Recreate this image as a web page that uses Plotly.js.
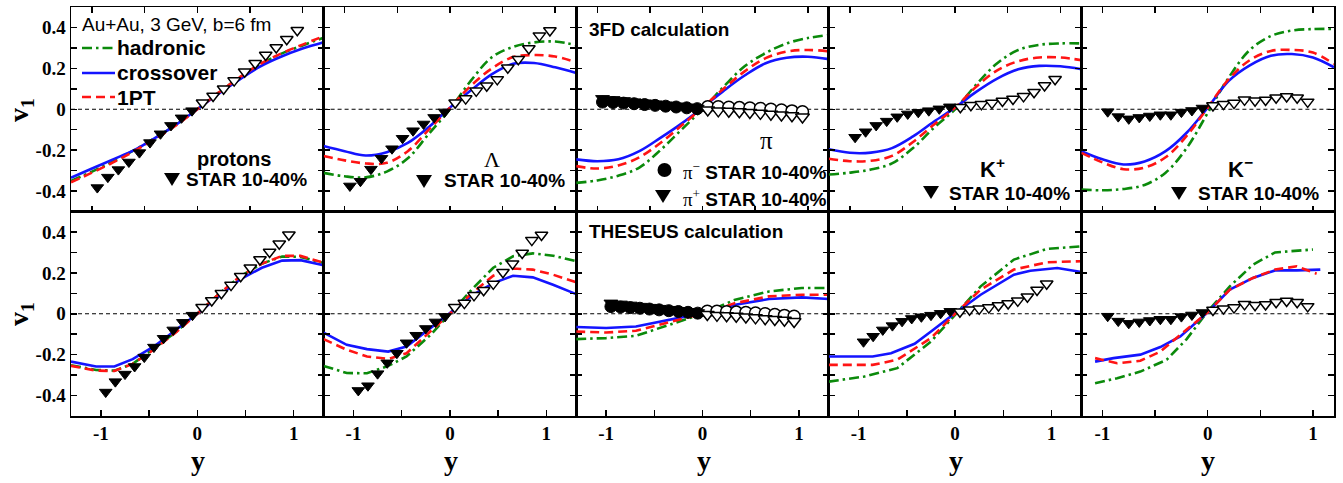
<!DOCTYPE html>
<html><head><meta charset="utf-8">
<script src="https://cdn.plot.ly/plotly-3.0.1.min.js"></script>
<style>html,body{margin:0;padding:0;background:#fff}</style>
</head><body><div id="chart" style="width:1343px;height:483px"></div>
<script>
// ---------------- DATA ----------------
// rapidity grid for 3FD curves (top row)
const rap3FD = [-1.2,-1.0,-0.8,-0.6,-0.4,-0.2,0,0.2,0.4,0.6,0.8,1.0,1.2];
// protons 3FD
const pHad3FD   = [-0.35,-0.305,-0.255,-0.2,-0.14,-0.075,0.0,0.08,0.155,0.22,0.272,0.312,0.35];
const pCross3FD = [-0.335,-0.29,-0.245,-0.2,-0.14,-0.075,0.0,0.075,0.145,0.21,0.258,0.297,0.328];
const p1PT3FD   = [-0.357,-0.31,-0.26,-0.205,-0.145,-0.078,0.0,0.08,0.155,0.222,0.273,0.316,0.357];
// Lambda 3FD
const lHad3FD   = [-0.311,-0.328,-0.333,-0.305,-0.24,-0.12,0.0,0.14,0.255,0.305,0.327,0.331,0.313];
const lCross3FD = [-0.18,-0.205,-0.226,-0.21,-0.165,-0.087,0.008,0.093,0.172,0.222,0.226,0.205,0.177];
const l1PT3FD   = [-0.229,-0.25,-0.265,-0.262,-0.205,-0.1,0.008,0.115,0.2,0.255,0.265,0.258,0.229];
// pions 3FD
const piHad3FD   = [-0.36,-0.348,-0.325,-0.285,-0.2,-0.1,0.0,0.11,0.21,0.275,0.322,0.348,0.363];
const piCross3FD = [-0.245,-0.254,-0.245,-0.205,-0.14,-0.07,0.008,0.09,0.165,0.225,0.252,0.257,0.245];
const pi1PT3FD   = [-0.278,-0.29,-0.275,-0.235,-0.165,-0.08,0.008,0.1,0.185,0.25,0.282,0.29,0.283];
// K+ 3FD
const kpHad3FD   = [-0.319,-0.31,-0.295,-0.265,-0.19,-0.09,0.0,0.12,0.225,0.29,0.315,0.322,0.322];
const kpCross3FD = [-0.196,-0.213,-0.212,-0.19,-0.133,-0.06,0.008,0.085,0.15,0.195,0.212,0.21,0.196];
const kp1PT3FD   = [-0.242,-0.254,-0.252,-0.228,-0.16,-0.075,0.008,0.11,0.19,0.235,0.253,0.253,0.24];
// K- 3FD
const kmHad3FD   = [-0.393,-0.396,-0.39,-0.37,-0.31,-0.19,-0.018,0.155,0.29,0.358,0.385,0.392,0.393];
const kmCross3FD = [-0.205,-0.245,-0.27,-0.255,-0.205,-0.115,0.008,0.139,0.215,0.262,0.27,0.253,0.205];
const km1PT3FD   = [-0.213,-0.26,-0.293,-0.285,-0.235,-0.13,0.008,0.147,0.24,0.285,0.29,0.277,0.221];

// THESEUS curves (bottom row)
const rapThP    = [-1.31,-1.05,-0.86,-0.67,-0.45,-0.22,0,0.22,0.45,0.67,0.88,1.07,1.31];
const pHadTh    = [-0.252,-0.275,-0.278,-0.245,-0.17,-0.088,0.0,0.095,0.185,0.245,0.28,0.278,0.248];
const pCrossTh  = [-0.234,-0.258,-0.258,-0.222,-0.16,-0.08,0.0,0.085,0.17,0.225,0.26,0.262,0.237];
const p1PTTh    = [-0.255,-0.278,-0.28,-0.245,-0.175,-0.09,0.0,0.095,0.185,0.245,0.283,0.283,0.25];

const rapThL    = [-1.31,-1.07,-0.86,-0.64,-0.45,-0.2,0,0.24,0.45,0.655,0.86,1.07,1.31];
const lHadTh    = [-0.255,-0.29,-0.291,-0.255,-0.209,-0.103,0,0.125,0.225,0.281,0.295,0.284,0.257];
const lCrossTh  = [-0.092,-0.152,-0.173,-0.185,-0.16,-0.07,0.003,0.093,0.15,0.186,0.178,0.142,0.096];
const l1PTTh    = [-0.124,-0.176,-0.209,-0.221,-0.193,-0.087,0,0.105,0.186,0.221,0.216,0.191,0.154];

const rapThPi   = [-1.31,-1.0,-0.69,-0.34,0,0.34,0.69,1.03,1.31];
const piHadTh   = [-0.124,-0.119,-0.108,-0.054,0,0.069,0.109,0.126,0.126];
const piCrossTh = [-0.065,-0.07,-0.062,-0.03,0.003,0.044,0.072,0.08,0.072];
const pi1PTTh   = [-0.087,-0.092,-0.083,-0.042,0,0.052,0.085,0.093,0.093];

const rapThKpHad   = [-1.31,-0.94,-0.6,-0.25,0,0.265,0.61,0.955,1.31];
const kpHadTh      = [-0.332,-0.307,-0.266,-0.136,-0.005,0.134,0.265,0.317,0.33];
const rapThKpCross = [-1.31,-0.855,-0.665,-0.42,-0.25,0,0.265,0.61,0.78,1.06,1.31];
const kpCrossTh    = [-0.209,-0.209,-0.193,-0.147,-0.087,0.003,0.093,0.191,0.21,0.224,0.204];
const rapThKp1PT   = [-1.31,-0.855,-0.6,-0.25,0,0.265,0.61,0.955,1.31];
const kp1PTTh      = [-0.25,-0.25,-0.225,-0.119,0,0.118,0.216,0.252,0.257];

const rapThKmHad   = [-1.07,-0.86,-0.64,-0.39,-0.2,0,0.21,0.43,0.64,0.81,1.0];
const kmHadTh      = [-0.34,-0.315,-0.283,-0.225,-0.124,0.011,0.134,0.24,0.30,0.306,0.314];
const rapThKmCross = [-1.07,-0.895,-0.64,-0.45,-0.26,0,0.21,0.43,0.64,0.845,1.07];
const kmCrossTh    = [-0.234,-0.217,-0.2,-0.163,-0.111,0.007,0.118,0.175,0.212,0.212,0.216];
const rapThKm1PT   = [-1.07,-0.86,-0.64,-0.45,-0.26,0,0.21,0.43,0.64,0.845,1.035];
const km1PTTh      = [-0.217,-0.242,-0.23,-0.185,-0.103,0.007,0.118,0.175,0.216,0.232,0.196];

// STAR 10-40% data (measured at y<0, reflected at y>0)
const rapNeg = [-0.95,-0.85,-0.75,-0.65,-0.55,-0.45,-0.35,-0.25,-0.15,-0.05];
const rapPos = [0.05,0.15,0.25,0.35,0.45,0.55,0.65,0.75,0.85,0.95];
const starPNeg  = [-0.383,-0.332,-0.295,-0.258,-0.212,-0.163,-0.12,-0.079,-0.042,-0.007];
const starPPos  = [0.032,0.065,0.1,0.14,0.183,0.225,0.265,0.302,0.342,0.386];
const starLNeg  = [-0.375,-0.352,-0.293,-0.24,-0.193,-0.142,-0.105,-0.072,-0.04,-0.013];
const starLPos  = [0.032,0.052,0.09,0.115,0.146,0.203,0.245,0.297,0.36,0.385];
const starPimNeg = [0.035,0.033,0.03,0.027,0.023,0.019,0.015,0.011,0.007,0.003];
const starPimPos = [0.012,0.012,0.01,0.008,0.006,0.004,0.0,-0.004,-0.008,-0.012];
const starPipNeg = [0.052,0.047,0.042,0.036,0.031,0.026,0.021,0.016,0.011,0.005];
const starPipPos = [-0.004,-0.008,-0.01,-0.012,-0.016,-0.02,-0.024,-0.028,-0.032,-0.038];
const starKpNeg = [-0.137,-0.11,-0.079,-0.058,-0.037,-0.023,-0.015,-0.007,0.002,0.012];
const starKpPos = [0.01,0.02,0.024,0.03,0.04,0.05,0.063,0.083,0.116,0.147];
const starKmNeg = [-0.012,-0.036,-0.047,-0.04,-0.033,-0.027,-0.027,-0.014,-0.006,0.006];
const starKmPos = [0.018,0.025,0.03,0.046,0.042,0.045,0.056,0.062,0.056,0.036];

// ticks
const yTickVals = [-0.4,-0.2,0,0.2,0.4];
const yTickText = ['-0.4','-0.2','0','0.2','0.4'];
const xTickVals = [-1,0,1];
const xTickText = ['-1','0','1'];

// ---------------- STYLE / LAYOUT ----------------
const W=1343, H=483, ML=71, MR=9, MT=7, MB=67;
const PW=W-ML-MR, PH=H-MT-MB;
const px = v => (v-ML)/PW;
const py = v => (H-MB-v)/PH;
const COL = {had:'#0b8a0b', cross:'#1414ff', pt:'#ff1414'};
const DASH = {had:'10px,4px,2.5px,4px', cross:'solid', pt:'9px,5px'};
const SERIF = 'Liberation Serif, Times New Roman, serif';
const SANS = 'Liberation Sans, Arial, sans-serif';

const panels = [
  {curves:[[rap3FD,pHad3FD,'had'],[rap3FD,pCross3FD,'cross'],[rap3FD,p1PT3FD,'pt']], data:[[starPNeg,starPPos,'tri']]},
  {curves:[[rap3FD,lHad3FD,'had'],[rap3FD,lCross3FD,'cross'],[rap3FD,l1PT3FD,'pt']], data:[[starLNeg,starLPos,'tri']]},
  {curves:[[rap3FD,piHad3FD,'had'],[rap3FD,piCross3FD,'cross'],[rap3FD,pi1PT3FD,'pt']], data:[[starPimNeg,starPimPos,'circ'],[starPipNeg,starPipPos,'trismall']]},
  {curves:[[rap3FD,kpHad3FD,'had'],[rap3FD,kpCross3FD,'cross'],[rap3FD,kp1PT3FD,'pt']], data:[[starKpNeg,starKpPos,'tri']]},
  {curves:[[rap3FD,kmHad3FD,'had'],[rap3FD,kmCross3FD,'cross'],[rap3FD,km1PT3FD,'pt']], data:[[starKmNeg,starKmPos,'tri']]},
  {curves:[[rapThP,pHadTh,'had'],[rapThP,pCrossTh,'cross'],[rapThP,p1PTTh,'pt']], data:[[starPNeg,starPPos,'tri']]},
  {curves:[[rapThL,lHadTh,'had'],[rapThL,lCrossTh,'cross'],[rapThL,l1PTTh,'pt']], data:[[starLNeg,starLPos,'tri']]},
  {curves:[[rapThPi,piHadTh,'had'],[rapThPi,piCrossTh,'cross'],[rapThPi,pi1PTTh,'pt']], data:[[starPimNeg,starPimPos,'circ'],[starPipNeg,starPipPos,'trismall']]},
  {curves:[[rapThKpHad,kpHadTh,'had'],[rapThKpCross,kpCrossTh,'cross'],[rapThKp1PT,kp1PTTh,'pt']], data:[[starKpNeg,starKpPos,'tri']]},
  {curves:[[rapThKmHad,kmHadTh,'had'],[rapThKmCross,kmCrossTh,'cross'],[rapThKm1PT,km1PTTh,'pt']], data:[[starKmNeg,starKmPos,'tri']]}
];

const traces=[], shapes=[], annotations=[];
const layout = {
  width:W, height:H, margin:{l:ML,r:MR,t:MT,b:MB}, showlegend:false,
  paper_bgcolor:'#fff', plot_bgcolor:'#fff',
  font:{family:SANS, color:'#000'}
};
const tickFont = {family:SERIF, size:19, weight:'bold', color:'#000'};

panels.forEach((p,i)=>{
  const s = i===0 ? '' : String(i+1);
  const top = i<5, col = i%5;
  const xr = (top || i===9) ? [-1.2,1.2] : [-1.31,1.31];
  const xa = 'x'+s, ya = 'y'+s;
  layout['xaxis'+s] = {
    domain:[col*0.2,(col+1)*0.2], range:xr, anchor:ya,
    showline:true, linewidth:1.5, linecolor:'#000', mirror: top ? 'ticks' : true,
    ticks:'inside', ticklen:6, tickwidth:1.5, tickcolor:'#000',
    tickmode:'array', tickvals:xTickVals, ticktext:xTickText,
    showticklabels:!top, tickfont:tickFont,
    minor:{tickmode:'linear', tick0:0, dtick:0.5, ticks:'inside', ticklen:6, tickwidth:1.5, tickcolor:'#000'},
    showgrid:false, zeroline:false, fixedrange:true
  };
  layout['yaxis'+s] = {
    domain: top ? [0.5,1] : [0,0.5], range:[-0.5,0.5], anchor:xa,
    showline:true, linewidth:1.5, linecolor:'#000', mirror:'ticks',
    ticks:'inside', ticklen:6, tickwidth:1.5, tickcolor:'#000',
    tickmode:'array', tickvals:yTickVals, ticktext:yTickText,
    showticklabels: col===0, tickfont:tickFont,
    minor:{tickmode:'linear', tick0:0, dtick:0.1, ticks:'inside', ticklen:6, tickwidth:1.5, tickcolor:'#000'},
    showgrid:false, zeroline:false, fixedrange:true
  };
  shapes.push({type:'line', xref:xa+' domain', yref:ya, x0:0, x1:1, y0:0, y1:0,
    line:{color:'#000', width:1, dash:'4px,3px'}, layer:'below'});
  p.curves.forEach(([x,y,k])=>{
    traces.push({type:'scatter', mode:'lines', x:x, y:y, xaxis:xa, yaxis:ya,
      line:{color:COL[k], width:2.6, dash:DASH[k], shape: top ? 'spline' : 'linear', smoothing:1},
      hoverinfo:'skip', cliponaxis:true});
  });
  p.data.forEach(([neg,pos,kind])=>{
    const sym = kind==='circ' ? 'circle' : 'triangle-down';
    const size = kind==='tri' ? 11 : 12;
    traces.push({type:'scatter', mode:'markers', x:rapNeg, y:neg, xaxis:xa, yaxis:ya,
      marker:{symbol:sym, size:size, color:'#000', line:{color:'#000', width:1}}, hoverinfo:'skip'});
    traces.push({type:'scatter', mode:'markers', x:rapPos, y:pos, xaxis:xa, yaxis:ya,
      marker:{symbol:sym, size:size, color:'#fff', line:{color:'#000', width:1.5}}, hoverinfo:'skip'});
  });
});

// ---- legend line samples (panel 1) ----
[['had',48],['cross',73],['pt',97]].forEach(([k,yy])=>{
  shapes.push({type:'line', xref:'paper', yref:'paper', x0:px(82), x1:px(115), y0:py(yy), y1:py(yy),
    line:{color:COL[k], width:2.6, dash:DASH[k]}});
});
// ---- legend markers ----
function triShape(cx,cy){
  return {type:'path', xref:'paper', yref:'paper', fillcolor:'#000', line:{width:0},
    path:`M ${px(cx-8)} ${py(cy-6)} L ${px(cx+8)} ${py(cy-6)} L ${px(cx)} ${py(cy+7)} Z`};
}
shapes.push(triShape(172,179));
shapes.push(triShape(424,181));
shapes.push(triShape(663,196));
shapes.push(triShape(931,192));
shapes.push(triShape(1179,193));
shapes.push({type:'circle', xref:'paper', yref:'paper', fillcolor:'#000', line:{width:0},
  x0:px(657.5), x1:px(671.5), y0:py(177), y1:py(163)});

// ---- text annotations ----
function txt(t,x,y,opt){
  annotations.push(Object.assign({text:t, xref:'paper', yref:'paper', x:px(x), y:py(y),
    xanchor:'left', yanchor:'middle', showarrow:false,
    font:{family:SANS, size:19, color:'#000', weight:'bold'}}, opt||{}));
}
txt('Au+Au, 3 GeV, b=6 fm', 80, 25, {font:{family:SANS, size:19, color:'#000', weight:'normal'}});
txt('hadronic', 115, 48, {font:{family:SANS, size:21, color:'#000', weight:'bold'}});
txt('crossover', 115, 73, {font:{family:SANS, size:21, color:'#000', weight:'bold'}});
txt('1PT', 115, 98, {font:{family:SANS, size:21, color:'#000', weight:'bold'}});
txt('protons', 233.5, 159, {xanchor:'center', font:{family:SANS, size:20, color:'#000', weight:'bold'}});
txt('STAR 10-40%', 184, 179);
txt('Λ', 491.7, 159, {xanchor:'center', font:{family:SERIF, size:22, color:'#000', weight:'normal'}});
txt('STAR 10-40%', 442, 181);
txt('3FD calculation', 587, 30);
txt('π', 767, 141, {xanchor:'center', font:{family:SERIF, size:25, color:'#000', weight:'normal'}});
txt('<span style="font-family:Liberation Serif;font-weight:normal">π<sup>−</sup></span> STAR 10-40%', 681, 171);
txt('<span style="font-family:Liberation Serif;font-weight:normal">π<sup>+</sup></span> STAR 10-40%', 681, 198);
txt('K<sup>+</sup>', 992, 168, {xanchor:'center', font:{family:SANS, size:22, color:'#000', weight:'bold'}});
txt('STAR 10-40%', 947, 193);
txt('K<sup>−</sup>', 1240, 168, {xanchor:'center', font:{family:SANS, size:22, color:'#000', weight:'bold'}});
txt('STAR 10-40%', 1196, 193);
txt('THESEUS calculation', 587, 232);
// axis titles
[110, 314].forEach(yy=>{
  annotations.push({text:'v<sub>1</sub>', xref:'paper', yref:'paper', x:px(20), y:py(yy),
    xanchor:'center', yanchor:'middle', textangle:-90, showarrow:false,
    font:{family:SERIF, size:28, color:'#000', weight:'bold'}});
});
[198, 451, 704, 956, 1208].forEach(xx=>{
  annotations.push({text:'y', xref:'paper', yref:'paper', x:px(xx), y:py(460),
    xanchor:'center', yanchor:'middle', showarrow:false,
    font:{family:SERIF, size:28, color:'#000', weight:'bold'}});
});

layout.shapes = shapes;
layout.annotations = annotations;
Plotly.newPlot('chart', traces, layout, {staticPlot:true, displayModeBar:false});
</script></body></html>
